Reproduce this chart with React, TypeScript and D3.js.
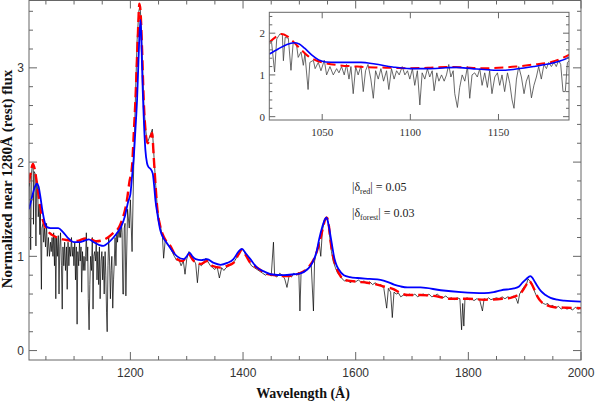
import * as d3 from "d3";

// black: observed spectrum (rest wavelength, normalized flux)
const obsWave = [
  1020, 1021.3, 1023, 1024.2, 1026, 1027.4, 1028, 1029, 1030.8, 1032.3, 1033.6, 1035.5, 1036.4, 1038, 1039.3,
  1040.2, 1042, 1043, 1045, 1046, 1047.8, 1049.3, 1051.2, 1052.5, 1054.4, 1056.3, 1058.2, 1059.5, 1061, 1062.5,
  1063.8, 1065.2, 1066.3, 1067.6, 1069, 1070.4, 1072, 1073.3, 1074.6, 1076, 1077.6, 1079, 1080.3, 1081.8, 1083.3,
  1084.8, 1086.5, 1087.8, 1089.3, 1090.8, 1092.2, 1093.7, 1095.4, 1096.9, 1098.4, 1099.7, 1101.2, 1102.5, 1104,
  1105.4, 1106.7, 1108.2, 1109.7, 1111, 1112.4, 1113.5, 1115, 1116.2, 1117.7, 1119.2, 1120.5, 1121.8, 1123, 1124.3,
  1125.2, 1126.7, 1128, 1129.4, 1130.9, 1132.4, 1133.7, 1135, 1136.5, 1138, 1139.4, 1140.7, 1142.2, 1143.7, 1145,
  1146.3, 1147.9, 1149.4, 1150.7, 1152, 1153.5, 1155.1, 1156.4, 1157.7, 1158.8, 1160.2, 1161.5, 1163, 1164.5,
  1165.8, 1167.1, 1168.7, 1170.1, 1171.5, 1172.8, 1174.3, 1175.8, 1177.2, 1178.5, 1180, 1181.5, 1182.8, 1184.1,
  1185.3, 1186.6, 1187.9, 1189.1, 1190.5, 1192, 1195, 1198, 1200, 1203, 1206, 1209, 1212, 1215, 1217, 1219, 1221,
  1224, 1227, 1230, 1233, 1236, 1239, 1242, 1245, 1248, 1251, 1254, 1257, 1259, 1262, 1266, 1270, 1274, 1278,
  1282, 1286, 1290, 1294, 1297, 1300, 1304, 1308, 1312, 1316, 1319, 1322, 1326, 1330, 1334, 1338, 1342, 1346,
  1350, 1354, 1358, 1362, 1366, 1370, 1375, 1380, 1385, 1390, 1395, 1398, 1402, 1406, 1410, 1415, 1420, 1425,
  1430, 1435, 1440, 1445, 1450, 1454, 1456, 1460, 1465, 1470, 1474, 1478, 1482, 1486, 1490, 1495, 1499, 1501,
  1503, 1508, 1512, 1517, 1521, 1525, 1527, 1531, 1535, 1538, 1541, 1545, 1548, 1551, 1554, 1557, 1560, 1564,
  1568, 1572, 1576, 1580, 1585, 1590, 1595, 1600, 1605, 1610, 1615, 1620, 1625, 1630, 1635, 1640, 1645, 1650,
  1655, 1658, 1662, 1665, 1668, 1672, 1676, 1680, 1685, 1690, 1695, 1700, 1705, 1710, 1715, 1720, 1725, 1730,
  1735, 1740, 1745, 1750, 1755, 1760, 1765, 1770, 1775, 1780, 1785, 1788, 1790, 1792, 1794, 1798, 1802, 1806,
  1810, 1815, 1820, 1825, 1828, 1832, 1836, 1840, 1845, 1850, 1855, 1860, 1865, 1870, 1875, 1880, 1885, 1888,
  1891, 1895, 1899, 1903, 1906, 1909, 1912, 1915, 1918, 1921, 1925, 1929, 1933, 1937, 1941, 1945, 1950, 1955,
  1960, 1965, 1970, 1975, 1980, 1985, 1990, 1995, 2000,
];
const obsFlux = [
  1.74, 1.78, 1.07, 1.86, 1.98, 1.97, 1.34, 1.9, 1.88, 1.11, 1.8, 1.7, 1.42, 1.55, 1.23,
  1.5, 0.65, 1.3, 1.35, 1.15, 1.3, 1.1, 1.35, 1.0, 1.2, 1.0, 1.15, 1.05, 1.2, 1.0,
  1.25, 0.9, 1.2, 0.55, 1.2, 1.0, 1.22, 0.6, 1.1, 1.25, 0.9, 0.44, 1.1, 0.9, 1.15,
  0.85, 1.1, 0.65, 1.15, 0.9, 1.1, 1.0, 1.2, 1.0, 1.1, 0.9, 1.15, 0.75, 1.1,
  0.28, 1.05, 0.9, 1.15, 0.95, 1.1, 0.62, 1.05, 0.85, 1.0, 0.85, 1.0, 1.25, 0.95, 1.1,
  0.55, 0.22, 0.7, 1.0, 0.85, 1.2, 0.44, 1.0, 1.05, 0.95, 1.15, 0.75, 1.05, 0.7, 1.1,
  0.55, 0.95, 1.05, 0.75, 1.0, 0.6, 1.05, 0.8, 0.4, 0.2, 0.9, 1.2, 0.95, 0.55,
  0.85, 1.0, 0.45, 0.75, 0.95, 1.2, 0.9, 1.25, 1.15, 1.3, 1.2, 1.3, 1.2, 1.35,
  1.25, 0.6, 0.6, 1.3, 1.35, 0.58, 1.5, 1.3, 1.6, 1.05, 2.0, 2.7, 3.3, 3.6, 3.66, 3.5, 3.15,
  2.6, 2.35, 2.2, 2.25, 2.3, 2.35, 2.05, 1.75, 1.5, 1.38, 1.3, 1.2, 0.98, 1.18, 1.12, 1.1, 1.05, 1.0,
  0.96, 0.97, 0.9, 0.95, 0.81, 0.97, 1.05, 1.0, 0.97, 0.92, 0.72, 0.92, 0.9, 0.93, 0.98, 0.94, 0.9, 0.88,
  0.86, 0.89, 0.77, 0.88, 0.85, 0.88, 0.9, 0.92, 0.95, 1.0, 1.05, 1.08, 1.05, 1.0, 0.95, 0.9, 0.88, 0.86,
  0.84, 0.82, 0.8, 0.82, 0.79, 1.15, 0.8, 0.78, 0.82, 0.8, 0.76, 0.67, 0.8, 0.78, 0.82, 0.8, 0.83, 0.42,
  0.82, 0.84, 0.86, 0.88, 0.92, 0.42, 0.95, 1.05, 1.15, 1.0, 1.28, 1.38, 1.42, 1.36, 1.2, 1.05, 0.95, 0.88,
  0.82, 0.8, 0.76, 0.74, 0.75, 0.72, 0.74, 0.73, 0.75, 0.72, 0.74, 0.71, 0.73, 0.7, 0.72, 0.69, 0.7, 0.66,
  0.45, 0.66, 0.62, 0.35, 0.62, 0.6, 0.61, 0.57, 0.59, 0.58, 0.6, 0.58, 0.6, 0.57, 0.59, 0.6, 0.58, 0.6,
  0.57, 0.58, 0.6, 0.57, 0.56, 0.58, 0.55, 0.56, 0.54, 0.56, 0.55, 0.22, 0.5, 0.26, 0.55, 0.56, 0.54, 0.55,
  0.53, 0.55, 0.54, 0.42, 0.55, 0.54, 0.56, 0.54, 0.55, 0.56, 0.55, 0.57, 0.55, 0.57, 0.56, 0.58, 0.55, 0.5,
  0.6, 0.64, 0.68, 0.7, 0.76, 0.74, 0.72, 0.68, 0.62, 0.58, 0.55, 0.52, 0.5, 0.49, 0.5, 0.47, 0.48, 0.45,
  0.47, 0.44, 0.46, 0.44, 0.45, 0.43, 0.46, 0.44, 0.45,
];

// red dashed: model continuum + emission lines
const redWave = [
  1020, 1024, 1027, 1030, 1033, 1037, 1042, 1047, 1052, 1060, 1070, 1080, 1090, 1100, 1110, 1120, 1130, 1140,
  1150, 1160, 1170, 1180, 1186, 1190, 1194, 1198, 1203, 1206, 1209, 1213, 1216, 1218, 1220.7, 1223.6, 1226.6,
  1230.7, 1235.5, 1238.5, 1241.4, 1244.4, 1247.4, 1253, 1259, 1265, 1271, 1277, 1283, 1292, 1298, 1304, 1310,
  1316, 1325, 1336, 1345, 1360, 1372, 1383, 1392, 1398, 1405, 1413, 1425, 1440, 1455, 1475, 1500, 1510, 1517,
  1525, 1532, 1537, 1541, 1546.6, 1549, 1552.5, 1555, 1558.5, 1563, 1567, 1573, 1579, 1590, 1603, 1620, 1638,
  1650, 1668, 1680, 1692, 1715, 1739, 1769, 1800, 1828, 1860, 1875, 1885, 1893, 1900, 1905, 1908, 1912, 1917,
  1923, 1929, 1940, 1953, 1975, 2000,
];
const redFlux = [
  1.78, 1.92, 1.98, 1.93, 1.82, 1.65, 1.45, 1.34, 1.28, 1.23, 1.2, 1.18, 1.17, 1.16, 1.17, 1.19, 1.18, 1.16,
  1.17, 1.2, 1.25, 1.31, 1.4, 1.48, 1.6, 1.78, 1.96, 2.3, 2.66, 3.3, 3.68, 3.6, 3.2, 2.66, 2.35,
  2.2, 2.26, 2.31, 2.06, 1.78, 1.53, 1.32, 1.21, 1.15, 1.11, 1.04, 0.97, 0.95, 0.98, 1.02, 0.97,
  0.93, 0.92, 0.95, 0.9, 0.88, 0.9, 0.93, 1.02, 1.07, 1.01, 0.93, 0.88, 0.82, 0.8, 0.79, 0.82, 0.85, 0.89,
  0.96, 1.07, 1.18, 1.28, 1.4, 1.41, 1.32, 1.18, 1.04, 0.93, 0.86, 0.79, 0.75, 0.74, 0.73, 0.72, 0.7,
  0.68, 0.65, 0.61, 0.59, 0.59, 0.58, 0.55, 0.55, 0.54, 0.55, 0.56, 0.58, 0.61, 0.67, 0.72, 0.74, 0.71, 0.65,
  0.57, 0.52, 0.48, 0.46, 0.455, 0.45,
];

// blue: second model
const blueWave = [
  1020, 1025, 1030, 1034, 1037, 1040, 1044, 1048, 1052, 1058, 1066, 1072, 1080, 1090, 1100, 1110, 1120, 1126,
  1135, 1145, 1152, 1160, 1170, 1178, 1184, 1190, 1196, 1200, 1203, 1206, 1209, 1212, 1214.5, 1217.7, 1219,
  1220.7, 1222, 1223.6, 1226.6, 1229.5, 1232, 1235.5, 1239.6, 1242, 1244.4, 1248.5, 1253, 1259, 1265, 1274,
  1283, 1295, 1300, 1305, 1310, 1316, 1326, 1336, 1348, 1360, 1372, 1383, 1392, 1398, 1405, 1413, 1425, 1437,
  1449, 1472, 1490, 1502, 1514, 1520, 1526, 1531, 1535, 1541, 1545, 1548.4, 1552, 1555.5, 1558.5, 1561.4, 1565,
  1570, 1579, 1590, 1603, 1625, 1644, 1656, 1668, 1680, 1692, 1715, 1751, 1787, 1828, 1845, 1858, 1881, 1890,
  1896, 1903, 1910, 1914, 1917, 1923, 1929, 1937, 1946, 1958, 1970, 2000,
];
const blueFlux = [
  1.5, 1.62, 1.73, 1.77, 1.74, 1.64, 1.48, 1.36, 1.31, 1.3, 1.3, 1.3, 1.26, 1.19, 1.15, 1.15, 1.17, 1.18,
  1.15, 1.12, 1.11, 1.14, 1.2, 1.26, 1.32, 1.42, 1.58, 1.66, 1.85, 2.05, 2.35, 2.68, 3.1, 3.51, 3.4,
  3.02, 2.75, 2.49, 2.13, 1.99, 1.95, 1.93, 1.88, 1.76, 1.6, 1.43, 1.28, 1.19, 1.14, 1.06,
  1.0, 0.97, 1.0, 1.04, 1.0, 0.97, 0.96, 0.97, 0.93, 0.91, 0.93, 0.97, 1.05, 1.08, 1.03, 0.97, 0.88, 0.84,
  0.81, 0.8, 0.81, 0.82, 0.86, 0.9, 0.97, 1.06, 1.18, 1.32, 1.39, 1.41, 1.33, 1.21, 1.1, 1.0, 0.92,
  0.86, 0.8, 0.78, 0.77, 0.76, 0.75, 0.73, 0.7, 0.68, 0.67, 0.67, 0.64, 0.62, 0.61, 0.62, 0.64, 0.66, 0.68,
  0.72, 0.76, 0.79, 0.77, 0.74, 0.68, 0.63, 0.59, 0.56, 0.54, 0.53, 0.52,
];

const mainXTicks = [1200, 1400, 1600, 1800, 2000];
const mainYTicks = [0, 1, 2, 3];
const insetXTicks = [1050, 1100, 1150];
const insetYTicks = [0, 1, 2];

const zip = (w: number[], f: number[]) => w.map((x, i) => [x, f[i]] as [number, number]);
const obs = zip(obsWave, obsFlux);
const red = zip(redWave, redFlux);
const blue = zip(blueWave, blueFlux);

const W = 598;
const H = 402;
const axisColor = "#666";
const labelColor = "#333";

type Box = { x0: number; x1: number; y0: number; y1: number };

function Frame({ box, x, y, xMajor, xMinor, yMajor, yMinor, major, minor }: any) {
  const { x0, x1, y0, y1 } = box as Box;
  return (
    <g stroke={axisColor} strokeWidth={1}>
      <rect x={x0} y={y0} width={x1 - x0} height={y1 - y0} fill="none" />
      {xMajor.map((t: number) => (
        <g key={"xM" + t}>
          <line x1={x(t)} x2={x(t)} y1={y1} y2={y1 - major} />
          <line x1={x(t)} x2={x(t)} y1={y0} y2={y0 + major} />
        </g>
      ))}
      {xMinor.map((t: number) => (
        <g key={"xm" + t}>
          <line x1={x(t)} x2={x(t)} y1={y1} y2={y1 - minor} />
          <line x1={x(t)} x2={x(t)} y1={y0} y2={y0 + minor} />
        </g>
      ))}
      {yMajor.map((t: number) => (
        <g key={"yM" + t}>
          <line x1={x0} x2={x0 + major} y1={y(t)} y2={y(t)} />
          <line x1={x1} x2={x1 - major} y1={y(t)} y2={y(t)} />
        </g>
      ))}
      {yMinor.map((t: number) => (
        <g key={"ym" + t}>
          <line x1={x0} x2={x0 + minor} y1={y(t)} y2={y(t)} />
          <line x1={x1} x2={x1 - minor} y1={y(t)} y2={y(t)} />
        </g>
      ))}
    </g>
  );
}

export default function App() {
  // main panel
  const mb: Box = { x0: 29, x1: 581, y0: 0.5, y1: 360 };
  const x = d3.scaleLinear().domain([1020, 2000]).range([mb.x0, mb.x1]);
  const y = d3.scaleLinear().domain([-0.1, 3.72]).range([mb.y1, 0]);
  const line = d3.line<[number, number]>().x((d) => x(d[0])).y((d) => y(d[1]));
  const smooth = d3
    .line<[number, number]>()
    .x((d) => x(d[0]))
    .y((d) => y(d[1]))
    .curve(d3.curveMonotoneX);

  // inset panel
  const ib: Box = { x0: 269.3, x1: 569, y0: 12.3, y1: 120 };
  const ix = d3.scaleLinear().domain([1020, 1190]).range([ib.x0, ib.x1]);
  const iy = d3.scaleLinear().domain([-0.08, 2.5]).range([ib.y1, ib.y0]);
  const iline = d3.line<[number, number]>().x((d) => ix(d[0])).y((d) => iy(d[1]));
  const ismooth = d3
    .line<[number, number]>()
    .x((d) => ix(d[0]))
    .y((d) => iy(d[1]))
    .curve(d3.curveMonotoneX);
  const inForest = (d: [number, number]) => d[0] >= 1014 && d[0] <= 1200;

  const xMinor = d3.range(1050, 2000, 50).filter((t) => t % 200 !== 0);
  const yMinor = d3.range(0.2, 3.7, 0.2).filter((t) => Math.abs(t - Math.round(t)) > 0.01);
  const iyMinor = d3.range(0.2, 2.5, 0.2).filter((t) => Math.abs(t - Math.round(t)) > 0.01);

  return (
    <svg
      width={W}
      height={H}
      style={{ position: "absolute", left: 0, top: 0, background: "#fff" }}
    >
      <defs>
        <clipPath id="mainClip">
          <rect x={mb.x0} y={mb.y0} width={mb.x1 - mb.x0} height={mb.y1 - mb.y0} />
        </clipPath>
        <clipPath id="insetClip">
          <rect x={ib.x0} y={ib.y0} width={ib.x1 - ib.x0} height={ib.y1 - ib.y0} />
        </clipPath>
      </defs>

      <g clipPath="url(#mainClip)" fill="none">
        <path d={line(obs) ?? ""} stroke="#000" strokeWidth={0.7} />
        <path d={smooth(red) ?? ""} stroke="#ff0000" strokeWidth={2.4} strokeDasharray="10,5" />
        <path d={smooth(blue) ?? ""} stroke="#0000ff" strokeWidth={1.8} />
      </g>

      <Frame
        box={mb}
        x={x}
        y={y}
        xMajor={mainXTicks}
        xMinor={xMinor}
        yMajor={mainYTicks}
        yMinor={yMinor}
        major={8}
        minor={4}
      />

      <g fontFamily="'Liberation Sans', Arial, sans-serif" fontSize={12} fill={labelColor}>
        {mainXTicks.map((t) => (
          <text key={t} x={x(t)} y={377} textAnchor="middle">
            {t}
          </text>
        ))}
        {mainYTicks.map((t) => (
          <text key={t} x={24} y={y(t) + 4.5} textAnchor="end">
            {t}
          </text>
        ))}
      </g>

      <text
        x={303}
        y={398}
        textAnchor="middle"
        fontFamily="'Liberation Serif', 'Times New Roman', serif"
        fontWeight="bold"
        fontSize={14}
        fill="#111"
      >
        Wavelength (Å)
      </text>
      <text
        transform={`translate(12,179) rotate(-90)`}
        textAnchor="middle"
        fontFamily="'Liberation Serif', 'Times New Roman', serif"
        fontWeight="bold"
        fontSize={15}
        fill="#111"
      >
        Normalized near 1280Å (rest) flux
      </text>

      <g fontFamily="'Liberation Serif', 'Times New Roman', serif" fontSize={12} fill="#222">
        <text x={352} y={191}>
          |δ<tspan fontSize={8} dy={3}>red</tspan>
          <tspan dy={-3}>| = 0.05</tspan>
        </text>
        <text x={352} y={217}>
          |δ<tspan fontSize={8} dy={3}>forest</tspan>
          <tspan dy={-3}>| = 0.03</tspan>
        </text>
      </g>

      {/* inset */}
      <rect x={ib.x0} y={ib.y0} width={ib.x1 - ib.x0} height={ib.y1 - ib.y0} fill="#fff" />
      <g clipPath="url(#insetClip)" fill="none">
        <path d={iline(obs.filter(inForest)) ?? ""} stroke="#444" strokeWidth={0.8} />
        <path d={ismooth(red.filter(inForest)) ?? ""} stroke="#ff0000" strokeWidth={2} strokeDasharray="9,5" />
        <path d={ismooth(blue.filter(inForest)) ?? ""} stroke="#0000ff" strokeWidth={1.6} />
      </g>
      <Frame
        box={ib}
        x={ix}
        y={iy}
        xMajor={insetXTicks}
        xMinor={[]}
        yMajor={insetYTicks}
        yMinor={iyMinor}
        major={6}
        minor={3}
      />
      <g fontFamily="'Liberation Serif', 'Times New Roman', serif" fontSize={11} fill={labelColor}>
        {insetXTicks.map((t) => (
          <text key={t} x={ix(t)} y={136} textAnchor="middle">
            {t}
          </text>
        ))}
        {insetYTicks.map((t) => (
          <text key={t} x={265} y={iy(t) + 4} textAnchor="end">
            {t}
          </text>
        ))}
      </g>
    </svg>
  );
}
